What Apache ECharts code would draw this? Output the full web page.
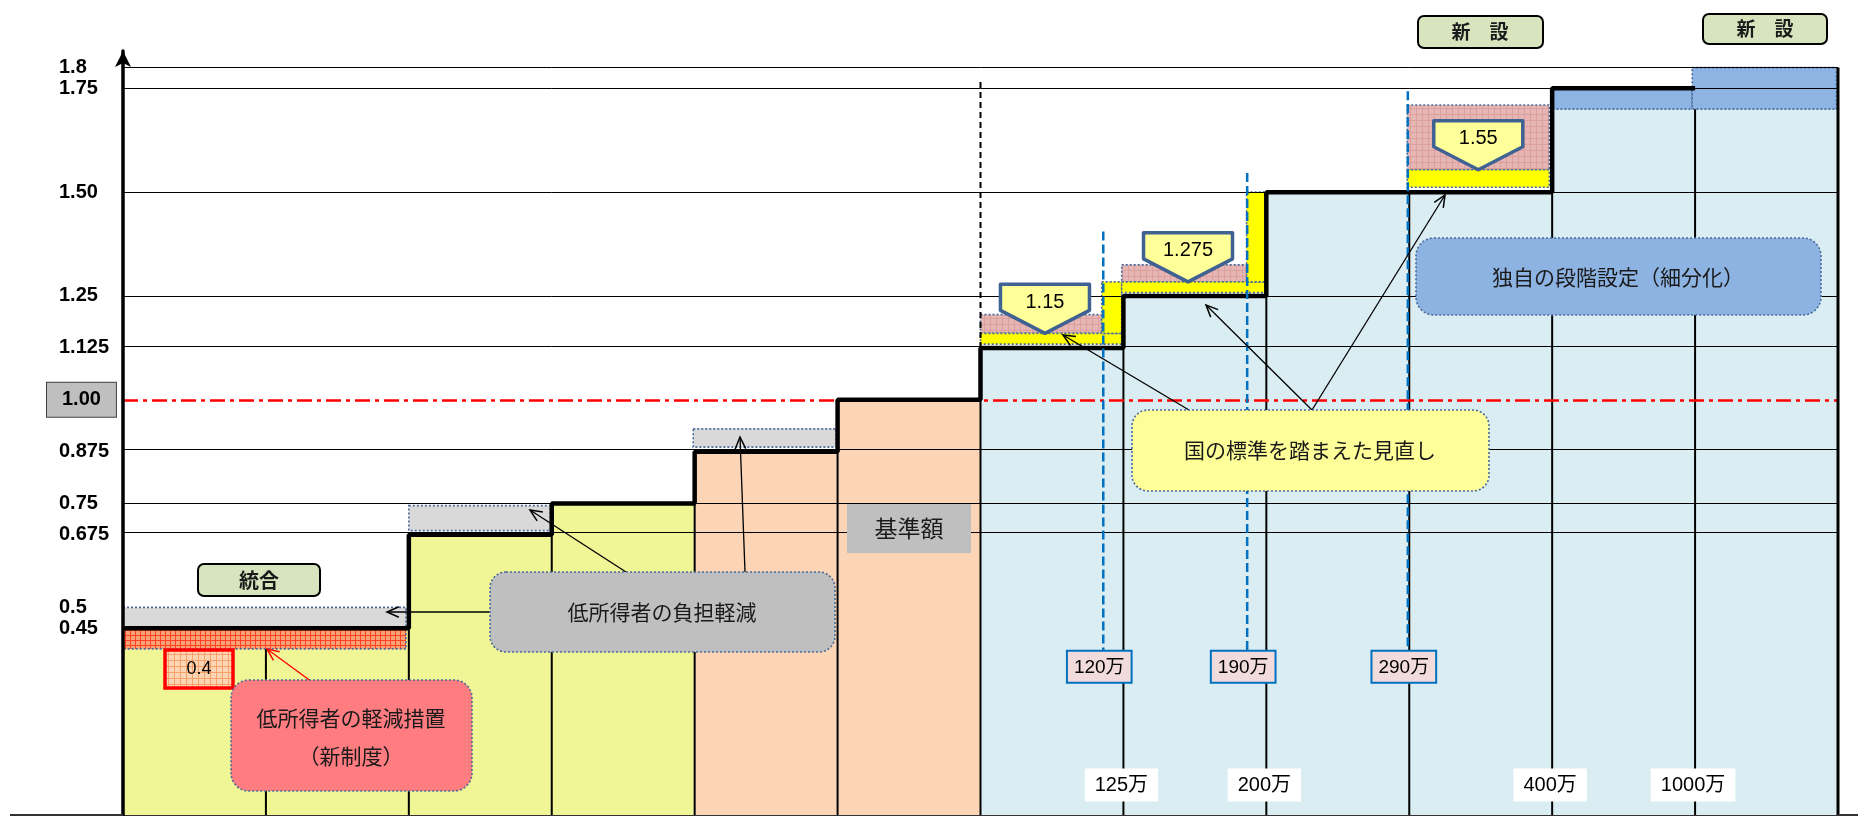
<!DOCTYPE html>
<html>
<head>
<meta charset="utf-8">
<script src="https://cdn.jsdelivr.net/npm/echarts@6/dist/echarts.min.js"></script>
<style>
  html, body { margin: 0; padding: 0; background: #fff; }
  #chart { width: 1858px; height: 816px; }
</style>
</head>
<body>
<div id="chart"></div>
<script>
// 段階ごとの保険料率（基準額 = 1.00）
const stageHeights = [0.45, 0.45, 0.675, 0.75, 0.875, 1.0, 1.125, 1.25, 1.5, 1.5, 1.75, 1.8];
const stageGroups = ['low', 'low', 'low', 'low', 'mid', 'mid', 'high', 'high', 'high', 'high', 'high', 'high'];

// 縦軸の目盛
const tickValues = [1.8, 1.75, 1.5, 1.25, 1.125, 1.0, 0.875, 0.75, 0.675, 0.5, 0.45];
const tickLabels = ['1.8', '1.75', '1.50', '1.25', '1.125', '1.00', '0.875', '0.75', '0.675', '0.5', '0.45'];
const gridValues = [1.8, 1.75, 1.5, 1.25, 1.125, 0.875, 0.75, 0.675];

// 所得の区切り（横軸）
const incomeTicks = [7, 8, 10, 11];
const incomeLabels = ['125万', '200万', '400万', '1000万'];

// 見直し部分 [x0, x1, 下, 上, 種類]
const overlays = [
  [0, 1.98, 0.45, 0.5, 'grey'],
  [0, 1.98, 0.40, 0.45, 'orange'],
  [2.0, 2.99, 0.685, 0.745, 'grey'],
  [3.99, 4.99, 0.886, 0.93, 'grey'],
  [6.0, 6.848, 1.16, 1.205, 'pink'],
  [6.0, 6.988, 1.134, 1.16, 'yellow'],
  [6.848, 6.988, 1.16, 1.284, 'yellow'],
  [6.988, 7.862, 1.284, 1.325, 'pink'],
  [6.988, 7.99, 1.258, 1.284, 'yellow'],
  [7.862, 7.99, 1.284, 1.5, 'yellow'],
  [8.986, 9.98, 1.554, 1.71, 'pink'],
  [8.986, 9.98, 1.512, 1.554, 'yellow'],
  [9.99, 10.98, 1.70, 1.75, 'navy'],
  [10.98, 11.99, 1.70, 1.80, 'navy']
];

// 国の標準の値
const callouts = [[6.451, 1.16, '1.15'], [7.452, 1.284, '1.275'], [9.483, 1.554, '1.55']];

// 所得の境界（青い破線） [x, 上端, ラベル]
const boundaryLines = [[6.859, 1.405, '120万'], [7.866, 1.546, '190万'], [8.99, 1.743, '290万']];

function gridPattern(bg, line, cell) {
  const c = document.createElement('canvas');
  c.width = c.height = cell;
  const g = c.getContext('2d');
  g.fillStyle = bg;
  g.fillRect(0, 0, cell, cell);
  g.fillStyle = line;
  g.fillRect(0, 0, 1, cell);
  g.fillRect(0, 0, cell, 1);
  return { image: c, repeat: 'repeat' };
}

const groupColors = { low: '#F0F596', mid: '#FBD5B6', high: '#DAEDF3' };
const overlayFills = {
  grey: '#D9D9D9',
  orange: gridPattern('#F9A276', '#FF4022', 5),
  pink: gridPattern('#E6B6B5', '#DCA09F', 6),
  yellow: '#FFFF00',
  navy: '#8DB4E2'
};
const dotted = { stroke: '#4A6A9B', lineWidth: 1.6, lineDash: [2, 2] };
const JP = '"Noto Sans CJK JP", sans-serif';
const NUM = '"Liberation Sans", "Noto Sans CJK JP", sans-serif';

function box(x, y, w, h, r, fill, border) {
  return { type: 'rect', z: 100, shape: { x, y, width: w, height: h, r }, style: Object.assign({ fill }, border) };
}
function label(text, x, y, size, weight) {
  return {
    type: 'text', z: 101, x, y,
    style: { text, fontSize: size, fontFamily: JP, fontWeight: weight || 'normal', fill: '#1a1a1a', align: 'center', verticalAlign: 'middle' }
  };
}
function arrow(x1, y1, x2, y2, color) {
  const a = Math.atan2(y2 - y1, x2 - x1), L = 13, w = 0.42;
  return {
    type: 'group', z: 100,
    children: [
      { type: 'line', z: 100, shape: { x1, y1, x2, y2 }, style: { stroke: color, lineWidth: 1.3 } },
      { type: 'polyline', z: 100, shape: { points: [[x2 - L * Math.cos(a - w), y2 - L * Math.sin(a - w)], [x2, y2], [x2 - L * Math.cos(a + w), y2 - L * Math.sin(a + w)]] },
        style: { stroke: color, lineWidth: 1.5, fill: null } }
    ]
  };
}

const stepData = stageHeights.slice(0, 11).map((h, i) => [i, h]);
stepData.push([11, stageHeights[10]]);

const chart = echarts.init(document.getElementById('chart'));

const option = {
  animation: false,
  backgroundColor: '#fff',
  grid: { left: 123, right: 20, top: 51, bottom: 1, containLabel: false, outerBoundsMode: 'none' },
  xAxis: {
    type: 'value', min: 0, max: 12,
    splitLine: { show: false },
    axisTick: { show: false },
    axisLabel: { show: false },
    axisLine: { show: true, lineStyle: { color: '#333', width: 2 } }
  },
  yAxis: {
    type: 'value', min: 0, max: 1.84, z: 10,
    splitLine: { show: false },
    axisTick: { show: false },
    axisLine: { show: true, symbol: ['none', 'arrow'], symbolSize: [12, 16], lineStyle: { color: '#000', width: 3.5 } },
    axisLabel: {
      customValues: tickValues,
      align: 'left', margin: 76,
      formatter: v => {
        const i = tickValues.findIndex(t => Math.abs(t - v) < 1e-6);
        const t = tickLabels[i];
        return t === '1.00' ? '{b|' + t + '}' : '{n|' + t + '}';
      },
      rich: {
        n: { fontSize: 20, fontWeight: 'bold', fontFamily: NUM, color: '#000', padding: [0, 0, 0, 12] },
        b: { fontSize: 20, fontWeight: 'bold', fontFamily: NUM, color: '#000', backgroundColor: '#BFBFBF',
             borderColor: '#404040', borderWidth: 1, padding: [7, 15, 7, 15] }
      }
    }
  },
  series: [
    {
      type: 'line', data: [], z: 1, silent: true,
      markLine: {
        silent: true, symbol: ['none', 'none'], label: { show: false },
        lineStyle: { color: '#000', width: 1, type: 'solid' },
        data: gridValues.map(v => ({ yAxis: v }))
      }
    },
    {
      type: 'custom', z: 2, silent: true,
      data: stageHeights.map((h, i) => [i, h]),
      renderItem: (params, api) => {
        const i = api.value(0), h = api.value(1);
        const p0 = api.coord([i, 0]), p1 = api.coord([i + 1, h]);
        const children = [{
          type: 'rect',
          shape: { x: p0[0], y: p1[1], width: p1[0] - p0[0], height: p0[1] - p1[1] },
          style: { fill: groupColors[stageGroups[params.dataIndex]] }
        }];
        if (i > 0) {
          children.push({ type: 'line', shape: { x1: p0[0], y1: p0[1], x2: p0[0], y2: p1[1] }, style: { stroke: '#000', lineWidth: 2 } });
        }
        return { type: 'group', children };
      }
    },
    {
      type: 'custom', z: 3, silent: true,
      data: overlays.map(o => [o[0], o[2], o[1], o[3]]),
      encode: { x: [0, 2], y: [1, 3] },
      renderItem: (params, api) => {
        const a = api.coord([api.value(0), api.value(1)]);
        const b = api.coord([api.value(2), api.value(3)]);
        return {
          type: 'rect',
          shape: { x: a[0], y: b[1], width: b[0] - a[0], height: a[1] - b[1] },
          style: Object.assign({ fill: overlayFills[overlays[params.dataIndex][4]] }, dotted)
        };
      }
    },
    {
      type: 'line', data: [], z: 4, silent: true,
      markLine: {
        silent: true, symbol: ['none', 'none'], label: { show: false },
        lineStyle: { color: '#FF0000', width: 2.5, type: [15, 5, 4, 5] },
        data: [{ yAxis: 1.0 }]
      }
    },
    {
      type: 'line', data: stepData, step: 'end', z: 5, silent: true,
      symbol: 'none', lineStyle: { color: '#000', width: 4.5 }
    },
    {
      type: 'line', data: [[12, 0], [12, stageHeights[11]]], z: 5, silent: true,
      symbol: 'none', lineStyle: { color: '#000', width: 3 }
    },
    {
      type: 'line', data: [[6, 1.125], [6, 1.775]], z: 5, silent: true,
      symbol: 'none', lineStyle: { color: '#000', width: 2, type: [6, 4] }
    },
    {
      // 所得の区切りラベル（横軸の下部）
      type: 'custom', z: 6, silent: true,
      data: incomeTicks.map(t => [t, 0]),
      renderItem: (params, api) => {
        const p = api.coord([api.value(0), 0]);
        return {
          type: 'text',
          style: {
            text: incomeLabels[params.dataIndex], x: p[0] - 2, y: p[1] - 30,
            align: 'center', verticalAlign: 'middle', fontSize: 20, fontFamily: NUM, fill: '#000',
            backgroundColor: '#fff', padding: [7, 10, 6, 10]
          }
        };
      }
    },
    {
      type: 'custom', z: 6, silent: true,
      data: boundaryLines.map(b => [b[0], b[1]]),
      renderItem: (params, api) => {
        const top = api.coord([api.value(0), api.value(1)]);
        const bottom = api.coord([api.value(0), 0.393]);
        return {
          type: 'group',
          children: [
            { type: 'line', shape: { x1: top[0], y1: top[1], x2: bottom[0], y2: bottom[1] },
              style: { stroke: '#0070C0', lineWidth: 2.5, lineDash: [9, 4] } },
            { type: 'text', style: {
                text: boundaryLines[params.dataIndex][2], x: bottom[0] - 4, y: bottom[1],
                align: 'center', verticalAlign: 'top', fontSize: 19, fontFamily: NUM, fill: '#000',
                backgroundColor: '#F2DCDB', borderColor: '#0070C0', borderWidth: 2, padding: [6, 6, 5, 6] } }
          ]
        };
      }
    },
    {
      type: 'custom', z: 7, silent: true,
      data: callouts.map(c => [c[0], c[1]]),
      renderItem: (params, api) => {
        const p = api.coord([api.value(0), api.value(1)]);
        const tx = p[0], ty = p[1], w = 44.5;
        return {
          type: 'group',
          children: [
            { type: 'polygon',
              shape: { points: [[tx - w, ty - 49], [tx + w, ty - 49], [tx + w, ty - 23], [tx, ty], [tx - w, ty - 23]] },
              style: { fill: '#FFFF99', stroke: '#3F6293', lineWidth: 3.5, lineJoin: 'round' } },
            { type: 'text', style: { text: callouts[params.dataIndex][2], x: tx, y: ty - 31, align: 'center', verticalAlign: 'middle',
                fontSize: 20, fontFamily: NUM, fill: '#000' } }
          ]
        };
      }
    }
  ],
  graphic: [
    { type: 'line', z: 100, shape: { x1: 10, y1: 815, x2: 123, y2: 815 }, style: { stroke: '#333', lineWidth: 2 } },
    { type: 'line', z: 100, shape: { x1: 1838, y1: 815, x2: 1858, y2: 815 }, style: { stroke: '#333', lineWidth: 2 } },

    box(198, 564, 122, 32, 6, '#D7E4BD', { stroke: '#000', lineWidth: 2 }),
    label('統合', 259, 580, 20, 'bold'),

    box(1418, 16, 125, 32, 6, '#D7E4BD', { stroke: '#000', lineWidth: 2 }),
    label('新　設', 1480, 32, 19, 'bold'),
    box(1703, 14, 124, 30, 6, '#D7E4BD', { stroke: '#000', lineWidth: 2 }),
    label('新　設', 1765, 29, 19, 'bold'),

    box(165, 650, 68, 38, 0, gridPattern('#FCD6B4', '#F4A26A', 6), { stroke: '#FF0000', lineWidth: 3.5 }),
    { type: 'text', z: 101, x: 199, y: 669, style: { text: '0.4', fontSize: 18, fontFamily: NUM, fill: '#000', align: 'center', verticalAlign: 'middle' } },

    arrow(490, 612, 387, 612, '#000'),
    arrow(626, 572, 530, 510, '#000'),
    arrow(745, 572, 740, 437, '#000'),
    box(490, 572, 345, 80, 16, '#BFBFBF', dotted),
    label('低所得者の負担軽減', 662, 612, 21),

    arrow(323, 690, 267, 649, '#FF0000'),
    box(231, 680, 241, 111, 18, '#FF7C80', dotted),
    label('低所得者の軽減措置', 351, 718, 21),
    label('（新制度）', 351, 756, 21),

    box(847, 504, 124, 49, 0, '#BFBFBF', null),
    label('基準額', 909, 528, 23),

    arrow(1189, 410, 1063, 335, '#000'),
    arrow(1312, 410, 1206, 305, '#000'),
    arrow(1312, 410, 1445, 195, '#000'),
    box(1132, 410, 357, 81, 16, '#FFFF99', dotted),
    label('国の標準を踏まえた見直し', 1310, 450, 21),

    box(1416, 238, 405, 77, 18, '#8DB3E2', dotted),
    label('独自の段階設定（細分化）', 1618, 277, 21)
  ]
};

chart.setOption(option);
</script>
</body>
</html>
